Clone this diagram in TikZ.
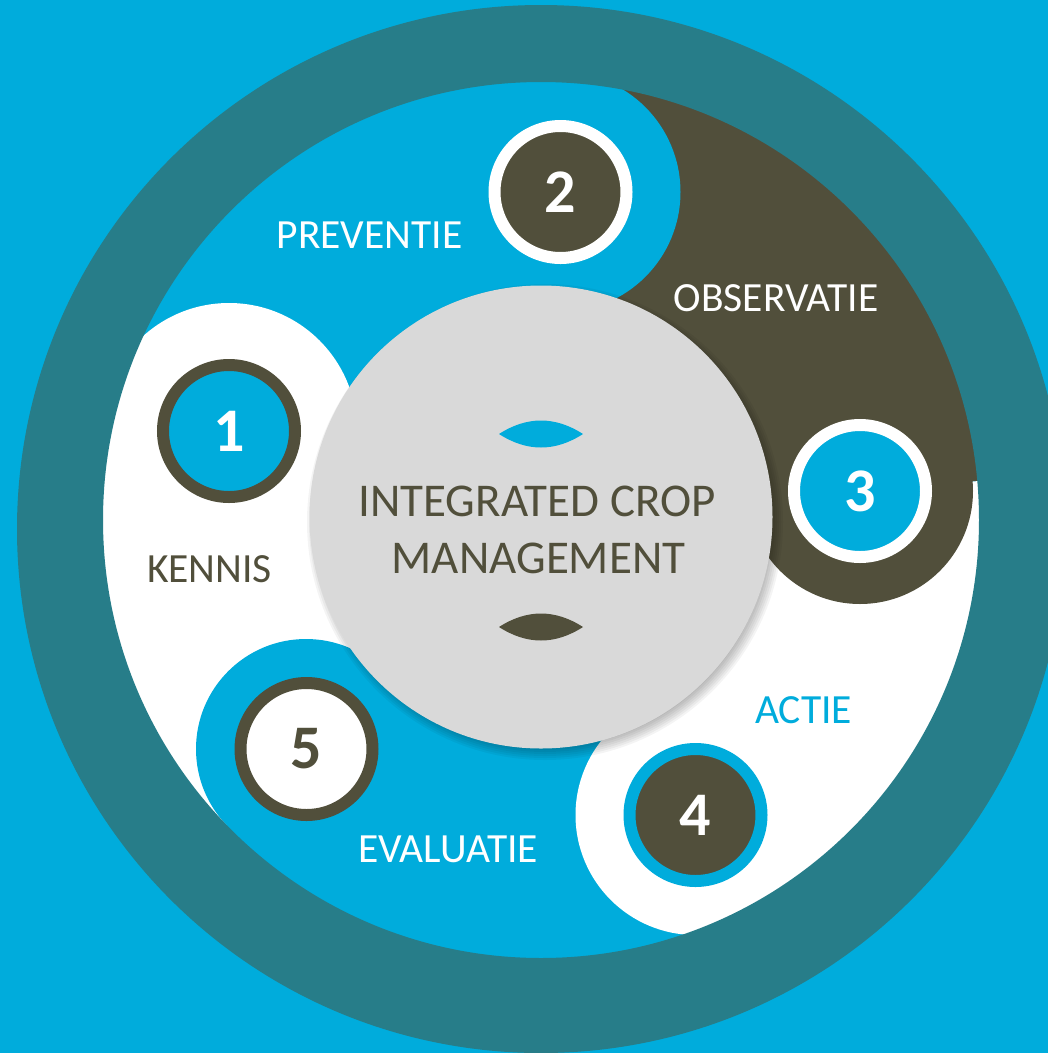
\documentclass[tikz,border=0pt]{standalone}
\usepackage{fontspec}
\setmainfont{Carlito}
\definecolor{icmcyan}{RGB}{0,172,220}
\definecolor{icmteal}{RGB}{39,125,137}
\definecolor{icmolive}{RGB}{81,79,59}
\definecolor{icmgrey}{RGB}{217,217,217}
\begin{document}
\begin{tikzpicture}[x=1pt, y=-1pt]
    \tikzstyle{every node}=[inner sep=0pt]
    \tikzstyle{steplabel}=[font=\fontsize{41.5}{50}\selectfont, anchor=base]
    \tikzstyle{stepdisk}=[circle, minimum size=132pt, line width=12pt, text=white,
        font=\fontsize{62}{70}\selectfont\bfseries]
    \tikzstyle{coreline}=[font=\fontsize{47}{57}\selectfont, text=icmolive, anchor=base]
    \useasboundingbox (0,0) rectangle (1048,1053);
    \fill[icmcyan] (0,0) rectangle (1048,1053);
    \coordinate (hub) at (541,517);
    \foreach \from/\to/\col in {135.3/195.4/white, 195.4/273.4/icmcyan,
        273.4/355.3/icmolive, -4.7/62.6/white, 62.6/135.3/icmcyan}
        \fill[\col] (hub) -- ++(\from:460) arc[start angle=\from, end angle=\to, radius=460] -- cycle;
    \foreach \x/\y/\r/\col in {229/431/128/white, 560.5/192/120/icmcyan,
        860/491/113/icmolive, 695.5/815/120/white, 306/749/110/icmcyan}
        \fill[\col] (\x,\y) circle (\r);
    \fill[icmteal, even odd rule] (541,529) circle (524) (541,520) circle (438);
    \foreach \r in {226,228,...,238}
        \fill[black, opacity=0.045] (545,522) circle (\r);
    \node[circle, fill=icmgrey, minimum size=463pt] (core) at (hub) {};
    \fill[icmcyan] (499,434) .. controls (527,416) and (555,416) .. (583,434)
        .. controls (555,452) and (527,452) .. (499,434) -- cycle;
    \fill[icmolive] (499,627) .. controls (527,609) and (555,609) .. (583,627)
        .. controls (555,645) and (527,645) .. (499,627) -- cycle;
    \node[coreline] (core1) at (537,516) {INTEGRATED CROP};
    \node[coreline] (core2) at (538.5,573) {MANAGEMENT};
    \node[stepdisk, fill=icmcyan, draw=icmolive] (step1) at (229,431) {1};
    \node[stepdisk, fill=icmolive, draw=white] (step2) at (560.5,192) {2};
    \node[stepdisk, fill=icmcyan, draw=white] (step3) at (860,491) {3};
    \node[stepdisk, fill=icmolive, draw=icmcyan] (step4) at (695.5,815) {4};
    \node[stepdisk, fill=white, draw=icmolive, text=icmolive] (step5) at (306.5,749) {5};
    \node[steplabel, text=icmolive] (kennis) at (209.5,582) {KENNIS};
    \node[steplabel, text=white] (preventie) at (369.5,248) {PREVENTIE};
    \node[steplabel, text=white] (observatie) at (776,311) {OBSERVATIE};
    \node[steplabel, text=icmcyan] (actie) at (803.5,723) {ACTIE};
    \node[steplabel, text=white] (evaluatie) at (448,862) {EVALUATIE};
\end{tikzpicture}
\end{document}
